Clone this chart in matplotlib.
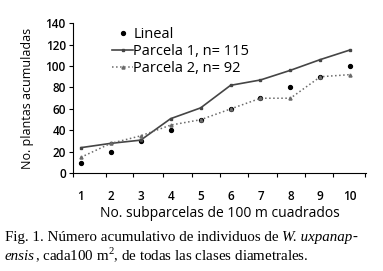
import numpy as np
import matplotlib
matplotlib.use("Agg")
import matplotlib.pyplot as plt

plt.rcParams['font.family'] = ['Open Sans', 'DejaVu Sans']
plt.rcParams['mathtext.fontset'] = 'custom'
plt.rcParams['mathtext.rm'] = 'Liberation Serif'

subparcelas = np.arange(1, 11)
lineal = [10, 20, 30, 40, 50, 60, 70, 80, 90, 100]
parcela1 = [24, 28, 31, 51, 61, 82, 87, 96, 106, 115]
parcela2 = [15, 28, 35, 45, 50, 60, 70, 70, 90, 92]
xlabels = [str(i) for i in subparcelas]

fig = plt.figure(figsize=(3.83, 2.71), dpi=100)
ax = fig.add_axes([0.19, 0.36, 0.766, 0.555])

ax.plot(subparcelas, lineal, linestyle='none', marker='o', ms=2.8,
        color='black', label='Lineal')
ax.plot(subparcelas, parcela1, '-', marker='s', ms=1.8, lw=1.2,
        color='#454545', label='Parcela 1, n= 115')
ax.plot(subparcelas, parcela2, ':', marker='^', ms=2.2, lw=1.1,
        color='#6a6a6a', label='Parcela 2, n= 92')

ax.set_xlim(0.73, 10.53)
ax.set_ylim(0, 140)
ax.set_yticks(np.arange(0, 141, 20))
ax.tick_params(axis='y', labelsize=8.5, length=3, width=0.8, pad=2)
for t in ax.get_yticklabels():
    t.set_fontweight('semibold')

# unlabeled tick marks between the subplots, labels under the points
ax.set_xticks([0.73, 1.84, 2.74, 3.74, 4.71, 5.65, 6.59, 7.56, 8.49, 9.43, 10.5])
ax.set_xticklabels([])
ax.set_xticks(subparcelas, minor=True)
ax.set_xticklabels(xlabels, minor=True, fontweight='semibold')
ax.tick_params(axis='x', which='major', length=3, width=0.8, direction='out')
ax.tick_params(axis='x', which='minor', length=0, pad=12, labelsize=8.5)

for s in ['top', 'right']:
    ax.spines[s].set_visible(False)

ax.set_ylabel('No. plantas acumuladas', fontsize=9, labelpad=8)
ax.set_xlabel('No. subparcelas de 100 m cuadrados', fontsize=10, labelpad=2)

ax.legend(loc='upper left', bbox_to_anchor=(0.115, 1.01), frameon=False,
          fontsize=10.5, handlelength=1.4, handletextpad=0.05, labelspacing=0.12,
          borderaxespad=0)

# caption, written piece by piece so the species name can be italic
fig.canvas.draw()
renderer = fig.canvas.get_renderer()
caption = [
    [('Fig. 1. Número acumulativo de individuos de ', 'normal'),
     ('W. uxpanap', 'italic'), ('-', 'normal')],
    [('ensis', 'italic'), (', cada100 m$^{2}$, de todas las clases diametrales.', 'normal')],
]
baselines = [0.11, 0.04]
for line, yb in zip(caption, baselines):
    x = 0.013
    for s, style in line:
        t = fig.text(x, yb, s, family='Liberation Serif', style=style,
                     fontsize=10.8, va='baseline')
        x += t.get_window_extent(renderer).width / fig.bbox.width

fig.savefig('out.png', dpi=100)
